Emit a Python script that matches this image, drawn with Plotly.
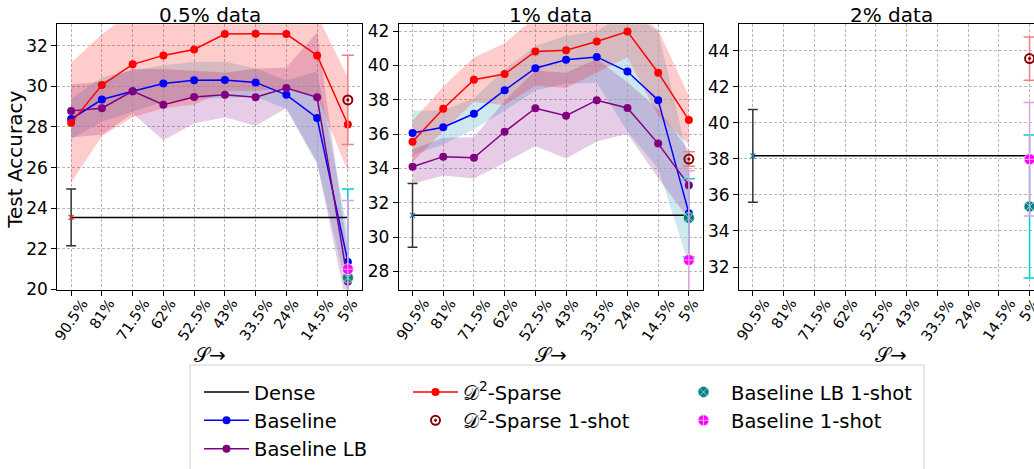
import plotly.graph_objects as go

W, H = 1034, 469

# ---------------- data ----------------
x_labels = ["90.5%", "81%", "71.5%", "62%", "52.5%", "43%", "33.5%", "24%", "14.5%", "5%"]
x_idx = list(range(len(x_labels)))
titles = ["0.5% data", "1% data", "2% data"]

# 0.5% data
d2_05 = [28.2, 30.06, 31.08, 31.52, 31.81, 32.57, 32.58, 32.57, 31.52, 28.12]
d2_05_std = [2.95, 2.5, 2.6, 2.6, 2.7, 2.8, 2.8, 2.7, 2.0, 2.3]
base_05 = [28.39, 29.35, 29.76, 30.14, 30.30, 30.31, 30.19, 29.58, 28.44, 21.36]
base_05_std = [1.0, 1.1, 1.0, 0.9, 0.9, 0.9, 0.7, 0.7, 2.3, 1.5]
lb_05 = [28.79, 28.92, 29.76, 29.09, 29.47, 29.58, 29.46, 29.92, 29.46, 20.4]
lb_05_std = [1.3, 1.3, 1.1, 1.75, 1.3, 1.1, 1.4, 1.0, 3.2, 1.5]

# 1% data
d2_1 = [35.56, 37.48, 39.17, 39.5, 40.82, 40.89, 41.4, 41.98, 39.58, 36.82]
d2_1_std = [1.2, 1.3, 1.3, 1.8, 2.0, 2.2, 1.8, 1.5, 2.5, 1.4]
base_1 = [36.07, 36.4, 37.19, 38.56, 39.84, 40.33, 40.5, 39.65, 37.98, 31.4]
base_1_std = [1.3, 1.0, 0.9, 1.2, 1.3, 1.4, 1.5, 3.5, 4.0, 3.0]
lb_1 = [34.1, 34.69, 34.62, 36.14, 37.51, 37.08, 37.98, 37.53, 35.45, 33.03]
lb_1_std = [1.0, 1.1, 1.2, 1.8, 2.2, 2.5, 2.4, 1.5, 2.0, 2.0]

# Dense (per panel)
dense_mean = [23.55, 31.27, 38.17]
dense_err = [1.4, 1.85, 2.57]

# 1-shot results at 5% (per panel)
d2_1shot = [29.33, 34.55, 43.57]
d2_1shot_err = [2.2, 0.42, 1.2]
lb_1shot = [20.59, 31.13, 35.36]
lb_1shot_err = [4.36, 2.27, 3.97]
base_1shot = [21.0, 28.67, 37.98]
base_1shot_err = [3.38, 5.2, 3.15]

y_ranges = [[20, 33.05], [26.95, 42.4], [30.75, 45.47]]

series = [
    (d2_05, d2_05_std, base_05, base_05_std, lb_05, lb_05_std),
    (d2_1, d2_1_std, base_1, base_1_std, lb_1, lb_1_std),
    None,
]

# ---------------- styling ----------------
FONT = "DejaVu Sans"
C_RED, C_BLUE, C_PURPLE = "red", "blue", "purple"
BAND_RED = "rgba(255,0,0,0.2)"
BAND_BLUE = "rgba(173,216,230,0.6)"
BAND_PURPLE = "rgba(128,0,128,0.2)"
TICK_SIZE = 17
XTICK_SIZE = 14.5
XTICK_ANGLE = -56
TITLE_SIZE = 20
LEGEND_SIZE = 19.5


def px_x(p):
    return p / W


def px_y(p):
    return 1 - p / H


unit = 304.4 / 9.9
dom_x_px = [(57.3, 361.7), (398.7, 702.7), (739.0, 1034.0)]
x_ranges = [[-0.45, 9.45], [-0.45, 9.45], [-0.45, -0.45 + (1034 - 739.0) / unit]]
y_dom = [px_y(296), px_y(22)]

fig = go.Figure()


def band(xa, ya, mean, std, color):
    up = [m + s for m, s in zip(mean, std)]
    lo = [m - s for m, s in zip(mean, std)]
    fig.add_trace(go.Scatter(
        x=x_idx + x_idx[::-1], y=up + lo[::-1], fill="toself", fillcolor=color,
        mode="lines", line=dict(width=0), hoverinfo="skip", showlegend=False,
        xaxis=xa, yaxis=ya))


for k in range(3):
    xa = "x" if k == 0 else f"x{k+1}"
    ya = "y" if k == 0 else f"y{k+1}"
    first = k == 0
    s = series[k]
    if s is not None:
        d2, d2s, b, bs, lb, lbs = s
        band(xa, ya, b, bs, BAND_BLUE)
        band(xa, ya, lb, lbs, BAND_PURPLE)
        band(xa, ya, d2, d2s, BAND_RED)
    # dense
    fig.add_trace(go.Scatter(
        x=[x_idx[0], x_idx[-1]], y=[dense_mean[k]] * 2, mode="lines",
        line=dict(color="black", width=1.5), name="Dense",
        showlegend=first, legend="legend", legendrank=1, xaxis=xa, yaxis=ya))
    fig.add_trace(go.Scatter(
        x=[x_idx[0]], y=[dense_mean[k]], mode="markers",
        marker=dict(symbol="x-thin", size=5, line=dict(width=1.2, color="#d62728" if k == 0 else "#1f77b4")),
        error_y=dict(type="data", array=[dense_err[k]], color="#333333", thickness=1.5, width=5),
        showlegend=False, xaxis=xa, yaxis=ya))
    if s is not None:
        fig.add_trace(go.Scatter(
            x=x_idx, y=b, mode="lines+markers", name="Baseline",
            line=dict(color=C_BLUE, width=1.5), marker=dict(size=8, color=C_BLUE),
            showlegend=first, legend="legend", legendrank=2, xaxis=xa, yaxis=ya))
        fig.add_trace(go.Scatter(
            x=x_idx, y=lb, mode="lines+markers", name="Baseline LB",
            line=dict(color=C_PURPLE, width=1.5), marker=dict(size=8, color=C_PURPLE),
            showlegend=first, legend="legend", legendrank=3, xaxis=xa, yaxis=ya))
        fig.add_trace(go.Scatter(
            x=x_idx, y=d2, mode="lines+markers", name="𝒟<sup>2</sup>-Sparse",
            line=dict(color=C_RED, width=1.5), marker=dict(size=8, color=C_RED),
            showlegend=first, legend="legend2", legendrank=1, xaxis=xa, yaxis=ya))
    # 1-shot points
    fig.add_trace(go.Scatter(
        x=[x_idx[-1]], y=[d2_1shot[k]], mode="markers", name="𝒟<sup>2</sup>-Sparse 1-shot",
        marker=dict(symbol="circle-open-dot", size=9, color="#8b0000", line=dict(width=2, color="#8b0000")),
        error_y=dict(type="data", array=[d2_1shot_err[k]], color="#f08080", thickness=1.5, width=6),
        showlegend=first, legend="legend2", legendrank=2, xaxis=xa, yaxis=ya))
    fig.add_trace(go.Scatter(
        x=[x_idx[-1]], y=[lb_1shot[k]], mode="markers", name="Baseline LB 1-shot",
        marker=dict(symbol="circle-x", size=11, color="teal", line=dict(width=1, color="rgba(200,240,240,0.7)")),
        error_y=dict(type="data", array=[lb_1shot_err[k]], color="darkturquoise", thickness=1.5, width=6),
        showlegend=first, legend="legend3", legendrank=1, xaxis=xa, yaxis=ya))
    fig.add_trace(go.Scatter(
        x=[x_idx[-1]], y=[base_1shot[k]], mode="markers", name="Baseline 1-shot",
        marker=dict(symbol="circle-cross", size=11, color="magenta", line=dict(width=1, color="rgba(255,220,255,0.8)")),
        error_y=dict(type="data", array=[base_1shot_err[k]], color="plum", thickness=1.5, width=6),
        showlegend=first, legend="legend3", legendrank=2, xaxis=xa, yaxis=ya))

# ---------------- axes ----------------
axis_common = dict(showline=True, linecolor="black", linewidth=1, ticks="outside",
                   ticklen=5, tickcolor="black", showgrid=True, gridcolor="#b8b8b8",
                   griddash="3px,2px", gridwidth=0.8, zeroline=False,
                   tickfont=dict(family=FONT, size=TICK_SIZE, color="black"))
annotations = []
for k in range(3):
    sx = "" if k == 0 else str(k + 1)
    x0, x1 = dom_x_px[k]
    fig.update_layout(**{
        f"xaxis{sx}": dict(axis_common, domain=[px_x(x0), px_x(x1)], range=x_ranges[k],
                           tickvals=x_idx, showticklabels=False, mirror=True,
                           anchor=f"y{sx}"),
        f"yaxis{sx}": dict(axis_common, domain=y_dom, range=y_ranges[k], dtick=2, tick0=0,
                           mirror=(k < 2), anchor=f"x{sx}"),
    })
    center_px = x0 + (x_ranges[k][0] * -1 + 4.5) * unit
    # title
    annotations.append(dict(text=titles[k], x=px_x(center_px), y=px_y(12), xref="paper", yref="paper",
                            showarrow=False, xanchor="center", yanchor="middle",
                            font=dict(family=FONT, size=TITLE_SIZE, color="black")))
    # x label
    annotations.append(dict(text="𝒮→", x=px_x(center_px), y=px_y(364), xref="paper", yref="paper",
                            showarrow=False, xanchor="center", yanchor="middle",
                            font=dict(family=FONT, size=TITLE_SIZE, color="black")))
    # rotated tick labels (matplotlib style, centred under tick)
    for i, lab in enumerate(x_labels):
        annotations.append(dict(text=lab, x=x_idx[i], xref=f"x{sx}", y=px_y(300), yref="paper",
                                showarrow=False, xanchor="center", yanchor="top", textangle=XTICK_ANGLE,
                                font=dict(family=FONT, size=XTICK_SIZE, color="black")))

annotations.append(dict(text="Test Accuracy", x=px_x(15), y=px_y(162), xref="paper", yref="paper",
                        showarrow=False, textangle=-90, xanchor="center", yanchor="middle",
                        font=dict(family=FONT, size=TITLE_SIZE, color="black")))

leg_common = dict(bgcolor="rgba(0,0,0,0)", borderwidth=0, orientation="v",
                  font=dict(family=FONT, size=LEGEND_SIZE, color="black"), xanchor="left",
                  yanchor="top", itemwidth=45, tracegroupgap=0)

fig.update_layout(
    width=W, height=H, margin=dict(l=0, r=0, t=0, b=0),
    paper_bgcolor="white", plot_bgcolor="white", showlegend=True,
    annotations=annotations,
    legend=dict(leg_common, x=px_x(199), y=px_y(382)),
    legend2=dict(leg_common, x=px_x(408), y=px_y(382)),
    legend3=dict(leg_common, x=px_x(676), y=px_y(382)),
    shapes=[dict(type="rect", xref="paper", yref="paper", x0=px_x(190), x1=px_x(924),
                 y0=-0.05, y1=px_y(374), line=dict(color="#d0d0d0", width=1),
                 fillcolor="rgba(0,0,0,0)", layer="below")],
)

fig.write_html("out.html")
